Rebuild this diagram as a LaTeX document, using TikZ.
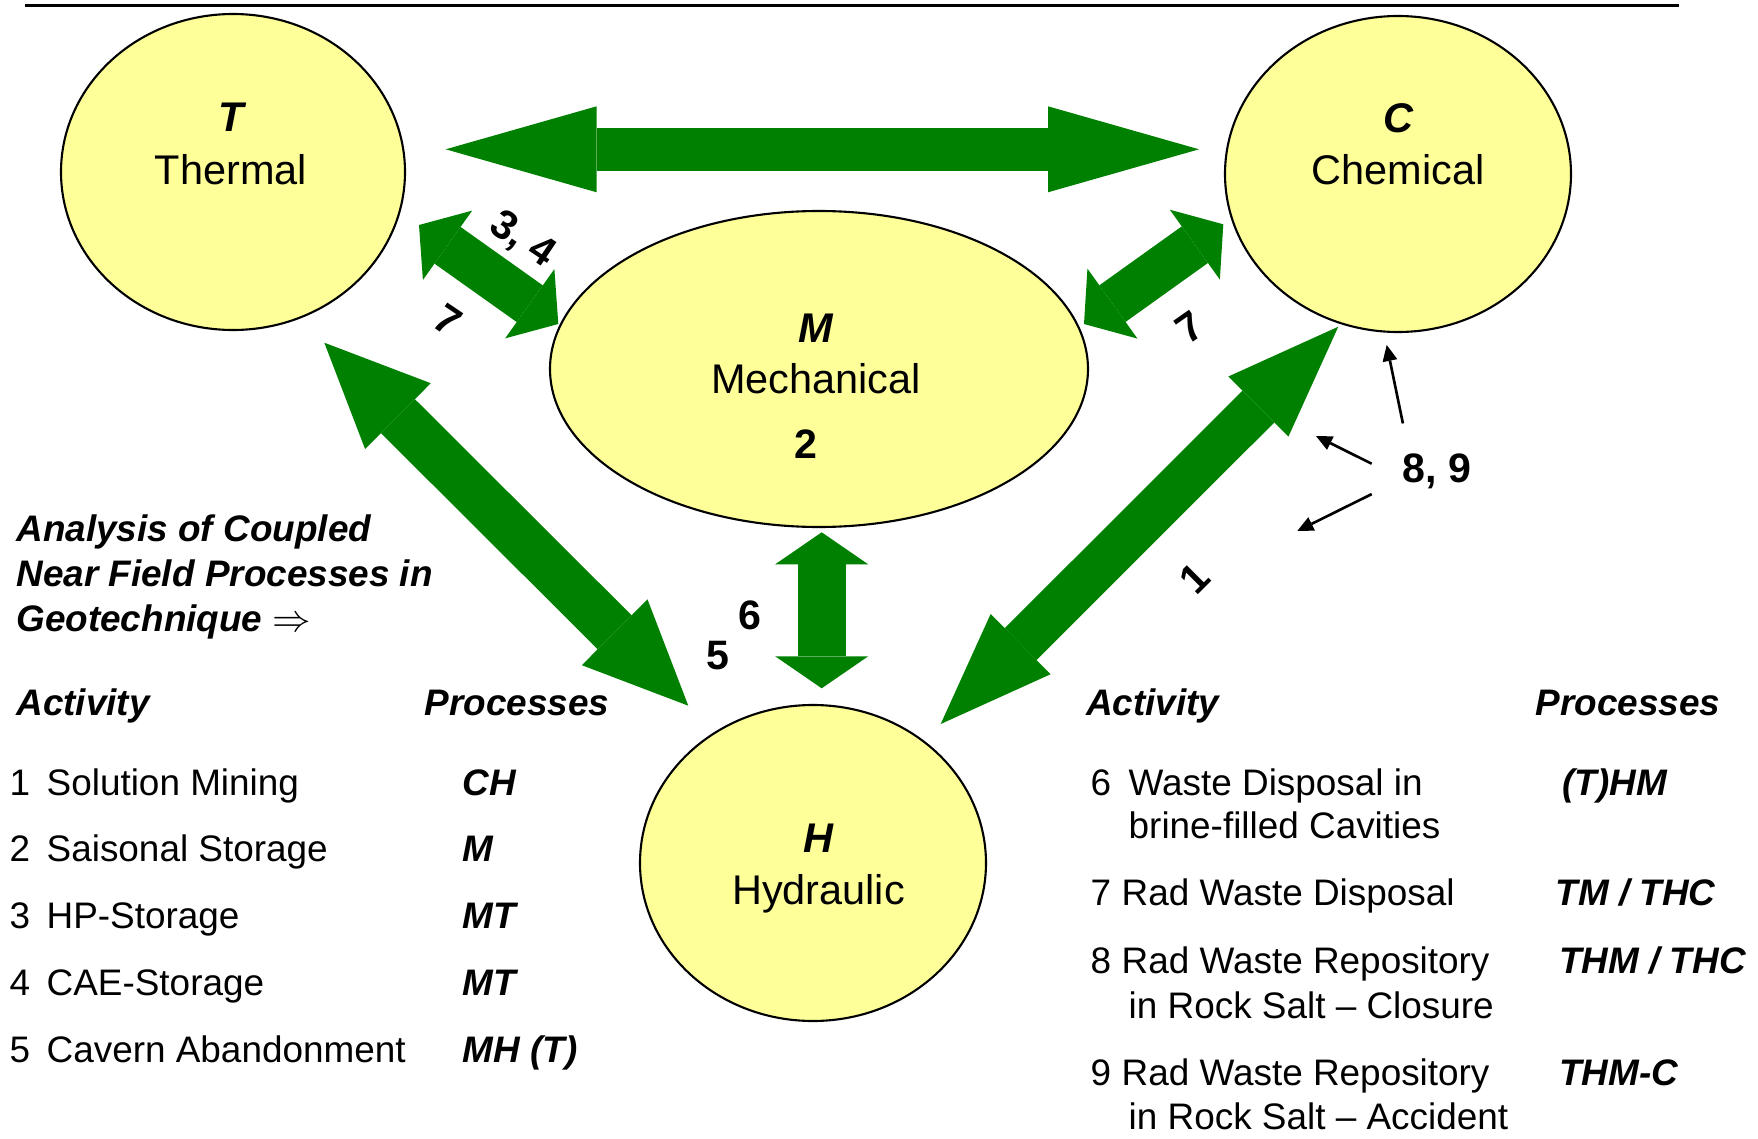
\documentclass[tikz,border=0pt]{standalone}
\usepackage{fontspec}
\setmainfont{Liberation Sans}
\usepackage{tikz}
\usetikzlibrary{positioning,arrows.meta,shapes.geometric}

\definecolor{couplegreen}{HTML}{008000}
\definecolor{fieldyellow}{HTML}{FFFF99}

\begin{document}
\begin{tikzpicture}[
  x=0.1mm, y=-0.1mm,
  field/.style={ellipse, draw=black, fill=fieldyellow, line width=.6pt, inner sep=0pt},
  fieldsym/.style={font=\fontsize{11.8}{14}\selectfont\bfseries\itshape, anchor=base, inner sep=0pt},
  fieldname/.style={font=\fontsize{11.8}{14}\selectfont, anchor=base, inner sep=0pt},
  num/.style={font=\fontsize{11.7}{14}\selectfont\bfseries, inner sep=0pt},
  item/.style={font=\fontsize{10.5}{12.6}\selectfont, anchor=base west, inner sep=0pt},
  proc/.style={item, font=\fontsize{10.5}{12.6}\selectfont\bfseries\itshape},
  colhead/.style={proc},
  couple/.style n args={3}{draw=couplegreen, line width=#1,
    arrows={Triangle[length=#3,width=#2,line width=0pt]-Triangle[length=#3,width=#2,line width=0pt]}},
  pointer/.style={draw=black, line width=.75pt, -{Triangle[length=1.6mm,width=1.5mm,line width=0pt]}}
]
\useasboundingbox (0,0) rectangle (1758,1139);
\draw[line width=1pt] (25,5.5) -- (1679,5.5);

% the four fields
\node[field, minimum width=34.4mm, minimum height=31.6mm] (T) at (233,172) {};
\node[field, minimum width=34.6mm, minimum height=31.6mm] (C) at (1398,174) {};
\node[field, minimum width=53.8mm, minimum height=31.6mm] (M) at (819,369) {};
\node[field, minimum width=34.6mm, minimum height=31.6mm] (H) at (813,863) {};

\node[fieldsym] (Tsym) at (231,131.5) {T};
\node[fieldname] (Tname) at (231,184.2) {Thermal};
\node[fieldsym] (Csym) at (1398,132.6) {C};
\node[fieldname] (Cname) at (1398,184.2) {Chemical};
\node[fieldsym] (Msym) at (816,342.3) {M};
\node[fieldname] (Mname) at (816,393.9) {Mechanical};
\node[fieldname, font=\fontsize{11.7}{14}\selectfont\bfseries] (Mnum) at (806,458.9) {2};
\node[fieldsym] (Hsym) at (818.5,852.4) {H};
\node[fieldname] (Hname) at (818.5,904) {Hydraulic};

% end points of the coupling arrows
\coordinate (TC-a) at (445.7,149.3);
\coordinate (TC-b) at (1199,149.3);
\coordinate (TM-a) at (419,225);
\coordinate (TM-b) at (558.3,324);
\coordinate (MC-a) at (1084,324);
\coordinate (MC-b) at (1223.3,224.3);
\coordinate (TH-a) at (324.3,342.7);
\coordinate (TH-b) at (688.3,705.7);
\coordinate (MH-a) at (821.7,532.3);
\coordinate (MH-b) at (821.7,688.3);
\coordinate (HC-a) at (940.7,724);
\coordinate (HC-b) at (1338.3,326.7);

\draw[couple={4.3mm}{8.6mm}{15.1mm}] (TC-a) -- (TC-b);
\draw[couple={4.5mm}{8.5mm}{3.5mm}] (TM-a) -- (TM-b);
\draw[couple={4.5mm}{8.6mm}{3.5mm}] (MC-a) -- (MC-b);
\draw[couple={4.8mm}{9.3mm}{10.4mm}] (TH-a) -- (TH-b);
\draw[couple={4.8mm}{9.3mm}{3.2mm}] (MH-a) -- (MH-b);
\draw[couple={4.5mm}{8.5mm}{11.3mm}] (HC-a) -- (HC-b);

% activity numbers along the couplings
\node[num, rotate=-34] (l34) at (522,240) {3, 4};
\node[num, rotate=-34] (l7a) at (448,320) {7};
\node[num, rotate=35] (l7b) at (1190,327) {7};
\node[num, rotate=45] (l1) at (1195,578) {1};
\node[num] (l6) at (750,615) {6};
\node[num] (l5) at (717.7,656) {5};
\node[num, inner sep=3mm] (l89) at (1436.7,471.7) {8, 9};

\coordinate (p89-a) at (1386.7,345);
\coordinate (p89-b) at (1316,436);
\coordinate (p89-c) at (1297.3,531);
\draw[pointer] (l89.125) -- (p89-a);
\draw[pointer] (l89.173) -- (p89-b);
\draw[pointer] (l89.199) -- (p89-c);

% title
\node[proc] (title1) at (15.7,541.5) {Analysis of Coupled};
\node[proc] (title2) at (15.7,586.4) {Near Field Processes in};
\node[proc] (title3) at (15.7,631.2) {Geotechnique $\Rightarrow$};

% left table
\node[colhead] (actL) at (15.7,715.3) {Activity};
\node[colhead] (procL) at (423.8,715.3) {Processes};
\node[item] (n1) at (9,795) {1};
\node[item] (a1) at (46,795) {Solution Mining};
\node[proc] (p1) at (462,795) {CH};
\node[item] (n2) at (9,861) {2};
\node[item] (a2) at (46,861) {Saisonal Storage};
\node[proc] (p2) at (462,861) {M};
\node[item] (n3) at (9,928.4) {3};
\node[item] (a3) at (46,928.4) {HP-Storage};
\node[proc] (p3) at (462,928.4) {MT};
\node[item] (n4) at (9,995.6) {4};
\node[item] (a4) at (46,995.6) {CAE-Storage};
\node[proc] (p4) at (462,995.6) {MT};
\node[item] (n5) at (9,1062.9) {5};
\node[item] (a5) at (46,1062.9) {Cavern Abandonment};
\node[proc] (p5) at (462,1062.9) {MH (T)};

% right table
\node[colhead] (actR) at (1085.3,715.3) {Activity};
\node[colhead] (procR) at (1535,715.3) {Processes};
\node[item] (n6) at (1089.8,795) {6};
\node[item] (a6) at (1128,795) {Waste Disposal in};
\node[item] (a6b) at (1128,838.7) {brine-filled Cavities};
\node[proc] (p6) at (1561.8,795) {(T)HM};
\node[item] (n7) at (1089.8,905.9) {7};
\node[item] (a7) at (1121,905.9) {Rad Waste Disposal};
\node[proc] (p7) at (1555,905.9) {TM / THC};
\node[item] (n8) at (1089.8,973.2) {8};
\node[item] (a8) at (1121,973.2) {Rad Waste Repository};
\node[item] (a8b) at (1128,1018) {in Rock Salt – Closure};
\node[proc] (p8) at (1558.5,973.2) {THM / THC};
\node[item] (n9) at (1089.8,1085.3) {9};
\node[item] (a9) at (1121,1085.3) {Rad Waste Repository};
\node[item] (a9b) at (1128,1129) {in Rock Salt – Accident};
\node[proc] (p9) at (1558.5,1085.3) {THM-C};
\end{tikzpicture}
\end{document}
